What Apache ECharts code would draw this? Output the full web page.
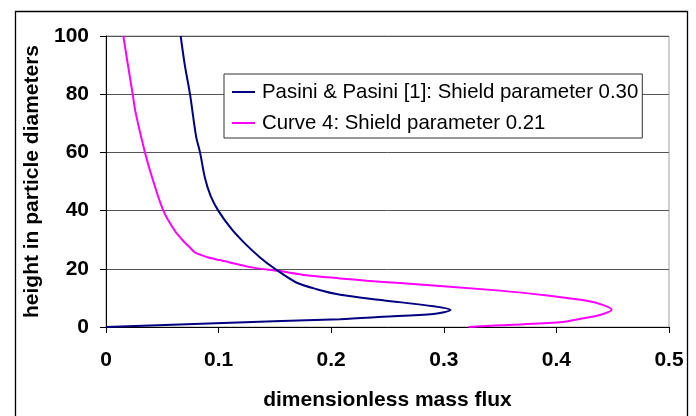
<!DOCTYPE html>
<html>
<head>
<meta charset="utf-8">
<script src="https://cdn.jsdelivr.net/npm/echarts@6/dist/echarts.min.js"></script>
<style>
html,body{margin:0;padding:0;background:#fff;}
#chart{width:696px;height:416px;}
</style>
</head>
<body>
<div id="chart"></div>
<script>
// Series names
const seriesNames = ['Pasini & Pasini [1]: Shield parameter 0.30', 'Curve 4: Shield parameter 0.21'];
// Pasini & Pasini curve: [mass flux, height]
const pasiniFlux   = [0.0663, 0.0700, 0.0746, 0.0800, 0.0835, 0.0880, 0.0930, 0.0997, 0.1116, 0.1226, 0.1368, 0.1500, 0.1690, 0.1870, 0.2080, 0.2460, 0.2910, 0.3060, 0.2910, 0.2460, 0.2080, 0.1040, 0.0000];
const pasiniHeight = [100,    90,     80,     65.5,   60,     51,     45,     40,     33.6,   29,     23.9,   20,     15.3,   13,     11.1,   9.2,    7.1,    5.8,    4.5,    3.5,    2.7,    1.4,    0];
// Curve 4
const curve4Flux   = [0.0154, 0.0195, 0.0237, 0.0264, 0.0346, 0.0415, 0.0509, 0.0613, 0.0700, 0.0746, 0.0790, 0.0850, 0.0909, 0.1010, 0.1310, 0.1530, 0.1780, 0.2080, 0.2315, 0.2610, 0.3500, 0.3940, 0.4270, 0.4417, 0.4490, 0.4387, 0.4240, 0.4030, 0.3500, 0.3220];
const curve4Height = [100,    90,     80,     73.5,   60,     50.7,   40,     33,     29,     27.3,   25.6,   24.7,   23.9,   23,     20.4,   19.3,   17.8,   16.7,   15.9,   15.1,   12.5,   10.7,   9,      7.5,    5.9,    4.1,    3,      1.6,    0.6,    0];
// Axis ticks
const xTicks = [0, 0.1, 0.2, 0.3, 0.4, 0.5];
const yTicks = [0, 20, 40, 60, 80, 100];
const xTitle = 'dimensionless mass flux';
const yTitle = 'height in particle diameters';

const zip = (a, b) => a.map((v, i) => [v, b[i]]);

const chart = echarts.init(document.getElementById('chart'), null, {renderer: 'canvas'});
const font = 'Liberation Sans, Arial, sans-serif';
chart.setOption({
  animation: false,
  backgroundColor: '#fff',
  grid: {left: 106, right: 27, top: 36, bottom: 88, show: true, borderColor: '#a0a0a0', borderWidth: 1, backgroundColor: 'transparent'},
  graphic: [{
    type: 'rect', left: 13, top: 9, z: 100, silent: true,
    shape: {x: 0, y: 0, width: 672, height: 420},
    style: {fill: 'none', stroke: '#000', lineWidth: 1.3}
  }],
  legend: {
    orient: 'vertical', left: 224, top: 74,
    backgroundColor: '#fff', borderColor: '#333', borderWidth: 1,
    padding: [8, 4, 5, 8], itemGap: 11,
    itemWidth: 23, itemHeight: 2, icon: 'rect',
    textStyle: {fontFamily: font, fontSize: 20.4, color: '#000', padding: [0, 0, 0, 2]},
    data: seriesNames
  },
  xAxis: {
    type: 'value', min: xTicks[0], max: xTicks[xTicks.length - 1], interval: 0.1,
    name: xTitle, nameLocation: 'middle', nameGap: 63,
    nameTextStyle: {fontFamily: font, fontSize: 21, fontWeight: 'bold', color: '#000'},
    axisLine: {show: true, lineStyle: {color: '#000', width: 1}},
    axisTick: {show: true, inside: false, length: 6, lineStyle: {color: '#000'}},
    axisLabel: {fontFamily: font, fontSize: 21, fontWeight: 'bold', color: '#000', margin: 23,
      formatter: v => String(+v.toFixed(1))},
    splitLine: {show: false}
  },
  yAxis: {
    type: 'value', min: yTicks[0], max: yTicks[yTicks.length - 1], interval: 20,
    name: yTitle, nameLocation: 'middle', nameGap: 63, nameRotate: 90,
    nameTextStyle: {fontFamily: font, fontSize: 21, fontWeight: 'bold', color: '#000'},
    axisLine: {show: true, lineStyle: {color: '#000', width: 1}},
    axisTick: {show: true, inside: false, length: 6, lineStyle: {color: '#000'}},
    axisLabel: {fontFamily: font, fontSize: 21, fontWeight: 'bold', color: '#000', margin: 17},
    splitLine: {show: true, lineStyle: {color: '#555', width: 1}}
  },
  series: [
    {name: seriesNames[0], type: 'line', data: zip(pasiniFlux, pasiniHeight), showSymbol: false, smooth: 0.3,
     lineStyle: {color: '#000080', width: 2}, itemStyle: {color: '#000080'}, z: 3},
    {name: seriesNames[1], type: 'line', data: zip(curve4Flux, curve4Height), showSymbol: false, smooth: 0.3,
     lineStyle: {color: '#ff00ff', width: 2}, itemStyle: {color: '#ff00ff'}, z: 2}
  ]
});
</script>
</body>
</html>
